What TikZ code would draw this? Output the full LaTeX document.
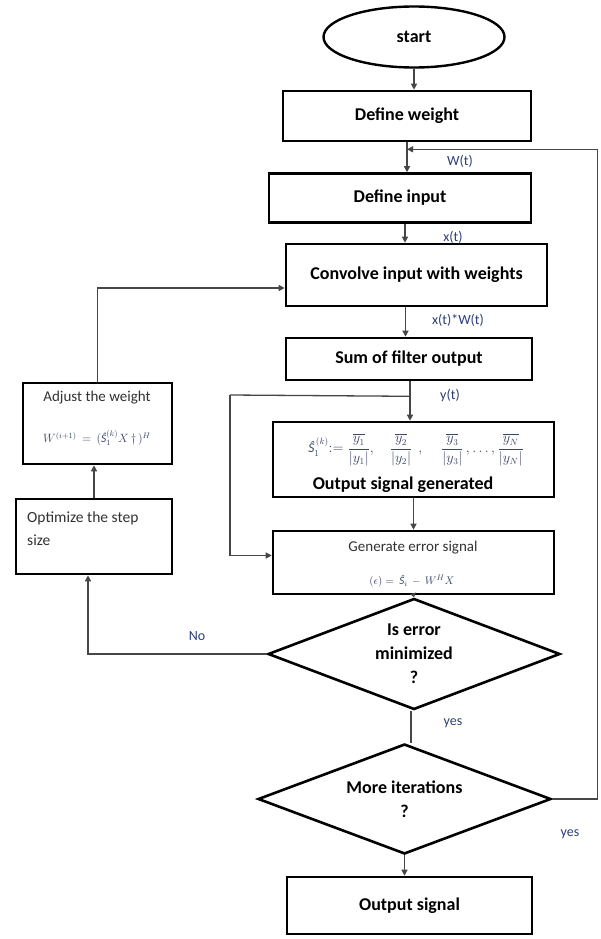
\documentclass[tikz,border=0pt]{standalone}
\usepackage{amsmath}
\usepackage{fontspec}
\setmainfont{Carlito}
\usetikzlibrary{shapes.geometric,calc,arrows.meta}
\definecolor{lblcol}{RGB}{45,62,120}
\definecolor{fmlcol}{RGB}{60,70,105}
\definecolor{conncol}{RGB}{70,70,70}
\definecolor{txtgray}{RGB}{50,50,50}
\newcommand{\Shat}{\mbox{\itshape Ŝ}}
\begin{document}
\begin{tikzpicture}[x=1pt,y=-1pt,
  box/.style={draw=black, line width=2.6pt, rectangle, inner sep=0pt,
    font=\fontsize{18}{22}\selectfont\bfseries},
  dia/.style={draw=black, line width=2.6pt, diamond, inner sep=0pt, aspect=2.6,
    align=center, font=\fontsize{18}{24}\selectfont\bfseries},
  conn/.style={draw=conncol, line width=1.3pt},
  arr/.style={conn, -{Triangle[length=6pt,width=6pt]}},
  lab/.style={text=lblcol, inner sep=0pt, font=\fontsize{14}{16}\selectfont},
  fml/.style={text=fmlcol, inner sep=0pt},
  plain/.style={inner sep=0pt, text=txtgray, font=\fontsize{15}{23}\selectfont}
]
\useasboundingbox (0,0) rectangle (601,939);
\fill[white] (0,0) rectangle (601,939);

% main column nodes
\node[draw=black, line width=2.4pt, ellipse, minimum width=181pt, minimum height=61pt,
      inner sep=0pt, font=\fontsize{18}{22}\selectfont\bfseries] (start) at (414,37) {start};
\node[box, minimum width=248pt, minimum height=50pt] (defw) at (407,116) {Define weight};
\node[box, minimum width=262pt, minimum height=49pt] (defi) at (400,198) {Define input};
\node[box, minimum width=261pt, minimum height=62pt] (conv) at (416.5,275) {Convolve input with weights};
\node[box, minimum width=246pt, minimum height=42pt] (sum) at (409,359) {Sum of filter output};
\node[box, minimum width=281pt, minimum height=75pt] (outg) at (413.5,459.5) {};
\node[box, minimum width=281pt, minimum height=63pt] (gen) at (413.5,562.5) {};
\node[dia, minimum width=292pt, minimum height=111pt] (dec1) at (414,654) {Is error\\minimized\\?};
\node[dia, minimum width=293pt, minimum height=110pt] (dec2) at (404.5,799) {More iterations\\?};
\node[box, minimum width=245pt, minimum height=57pt] (outs) at (409.5,905.5) {Output signal};

% left column nodes
\node[box, minimum width=149pt, minimum height=81pt] (adj) at (97.5,423.5) {};
\node[box, minimum width=156pt, minimum height=75pt] (opt) at (94,536.5) {};

% contents of boxes
\node[fml, font=\fontsize{13.5}{16}\selectfont] (outgf) at (416,450)
  {$\displaystyle \Shat_{1}^{\,(k)}{:=}\;\frac{\overline{y_1}}{|y_1|},\quad\frac{\overline{y_2}}{|y_2|}\ \ ,\quad\ \frac{\overline{y_3}}{|y_3|}\,,\ldots,\frac{\overline{y_N}}{|y_N|}$};
\node[inner sep=0pt, font=\fontsize{18}{22}\selectfont\bfseries] (outgt) at (403,485) {Output signal generated};
\node[plain] (gent) at (413,548) {Generate error signal};
\node[fml, font=\fontsize{11}{13}\selectfont] (genf) at (412,581) {$(\epsilon)=\ \Shat_{i}\,-\,W^{H}X$};
\node[plain] (adjt) at (97,398) {Adjust the weight};
\node[fml, font=\fontsize{11.5}{13}\selectfont] (adjf) at (97,438) {$W^{(i+1)}\,=\,(\Shat_{1}^{(k)}X\,\dagger\,)^{H}$};
\node[plain, align=left, anchor=north west, font=\fontsize{15.5}{23}\selectfont] (optt) at (27,512) {Optimize the step\\size};

% connectors
\draw[arr] (start.south) -- (start.south |- defw.north);
\draw[arr] (defw.south) -- (defw.south |- defi.north);
\coordinate (p1) at ($(defi.south)+(5,0)$);
\draw[arr] (p1) -- (p1 |- conv.north);
\coordinate (p2) at ($(conv.south)+(-11,0)$);
\draw[arr] (p2) -- (p2 |- sum.north);
\coordinate (p3) at ($(sum.south)+(1,0)$);
\draw[arr] (p3) -- (p3 |- outg.north);
\coordinate (br) at ($(sum.south)+(1,15)$);
\coordinate (bl) at (230,395);
\coordinate (gw) at ($(gen.west)+(0,-7)$);
\draw[conn] (br) -- (bl);
\draw[arr] (bl) |- (gw);
\draw[arr] (outg.south) -- (outg.south |- gen.north);
\draw[conn, -{Triangle[length=4pt,width=6pt]}] (gen.south) -- (dec1.north);
\coordinate (p5) at ($(dec1.south)+(-3,0)$);
\draw[conn] (p5) -- (p5 |- dec2.north);
\coordinate (os) at ($(opt.south)+(-6,0)$);
\draw[arr] (dec1.west) -| (os);
\draw[arr] (opt.north) -- (opt.north |- adj.south);
\coordinate (cw) at ($(conv.west)+(0,13)$);
\draw[arr] (adj.north) |- (cw);
\draw[arr] (dec2.south) -- (dec2.south |- outs.north);
\coordinate (fb) at ($(defw.south)+(0,7)$);
\draw[arr] (dec2.east) -- ++(45,0) |- (fb);

% labels
\node[lab] (lw) at (460,161) {W(t)};
\node[lab] (lx) at (453,237) {x(t)};
\node[lab] (lxw) at (458,320) {x(t)*W(t)};
\node[lab] (ly) at (450,396) {y(t)};
\node[lab] (lno) at (197,636) {No};
\node[lab] (lyes1) at (453,723) {yes};
\node[lab] (lyes2) at (570,834) {yes};
\end{tikzpicture}
\end{document}
